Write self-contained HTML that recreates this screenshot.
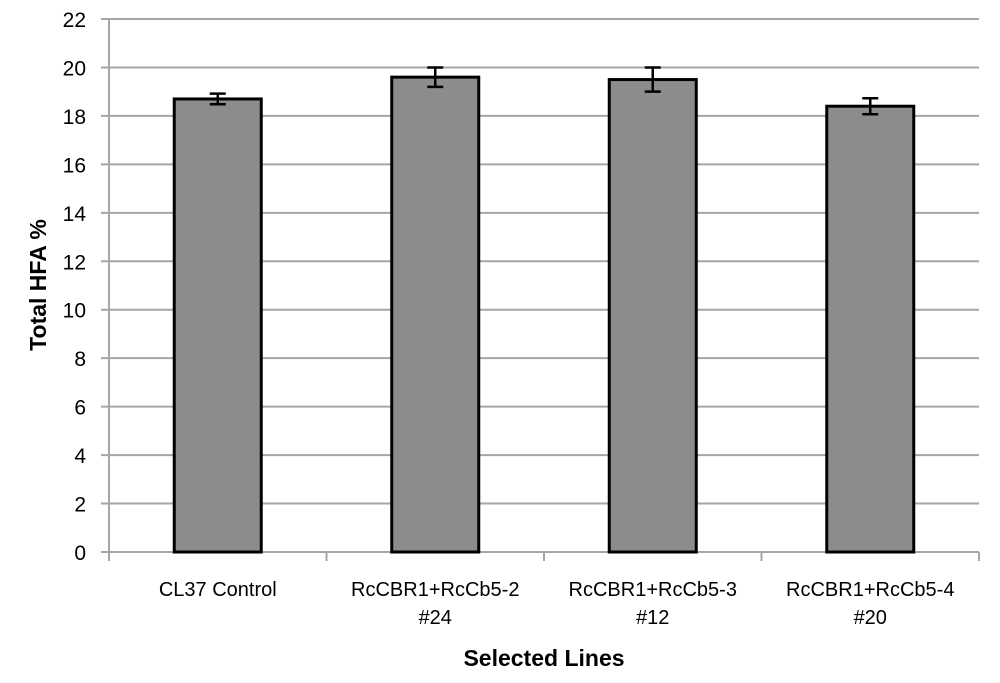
<!DOCTYPE html>
<html><head><meta charset="utf-8"><style>
body{margin:0;background:#fff;}
text{font-family:"Liberation Sans",Calibri,sans-serif;}
</style></head><body>
<svg id="chart" width="1000" height="678" xmlns="http://www.w3.org/2000/svg">
<g id="grid"></g>
<g id="yticks"></g>
<g id="xticks"></g>
<g id="bars"></g>
<text transform="translate(46,285) rotate(-90)" text-anchor="middle" font-size="23" font-weight="bold">Total HFA %</text>
<text x="544" y="666" text-anchor="middle" font-size="23" font-weight="bold">Selected Lines</text>
</svg>
<script>
const categories=[["CL37 Control"],["RcCBR1+RcCb5-2","#24"],["RcCBR1+RcCb5-3","#12"],["RcCBR1+RcCb5-4","#20"]];
const values=[18.7,19.6,19.5,18.4];
const errors=[0.22,0.4,0.5,0.33];
const yTicks=[0,2,4,6,8,10,12,14,16,18,20,22];
const NS="http://www.w3.org/2000/svg";
const x0=109,x1=979,yTop=19,yBot=552,yMax=22;
function y(v){return yBot-(v/yMax)*(yBot-yTop);}
const bw=(x1-x0)/categories.length;
function xc(i){return x0+bw*(i+0.5);}
function mk(tag,attrs,parent){const e=document.createElementNS(NS,tag);for(const k in attrs)e.setAttribute(k,attrs[k]);parent.appendChild(e);return e;}
const grid=document.getElementById('grid'),yt=document.getElementById('yticks'),xt=document.getElementById('xticks'),bars=document.getElementById('bars');
yTicks.forEach(t=>{
 const l=mk('line',{x1:101,x2:x1,y1:y(t),y2:y(t),stroke:'#a6a6a6','stroke-width':2},grid);
 
 
 const tx=mk('text',{x:86,y:y(t)+8,'text-anchor':'end','font-size':21},yt);
 tx.textContent=t;
 
 
});
mk('line',{x1:x0,x2:x0,y1:yTop,y2:yBot,stroke:'#a6a6a6','stroke-width':2},yt);
for(let i=0;i<=categories.length;i++){
 const tk=mk('line',{x1:x0+bw*i,x2:x0+bw*i,y1:yBot,y2:yBot+9,stroke:'#a6a6a6','stroke-width':2},xt);
 
 
}
categories.forEach((c,i)=>{
 c.forEach((line,j)=>{
  const tx=mk('text',{x:xc(i),y:596+j*28,'text-anchor':'middle','font-size':20},xt);
  tx.textContent=line;
  
  
 });
 const w=bw*0.4;
 const r=mk('rect',{x:xc(i)-w/2,y:y(values[i]),width:w,height:yBot-y(values[i]),fill:'#8c8c8c',stroke:'#000','stroke-width':3},bars);
 
 
 const hi=y(values[i]+errors[i]),lo=y(values[i]-errors[i]);
 const g=mk('g',{stroke:'#000','stroke-width':2.5},bars);
 
 
 mk('line',{x1:xc(i),x2:xc(i),y1:hi,y2:lo},g);
 mk('line',{x1:xc(i)-8,x2:xc(i)+8,y1:hi,y2:hi},g);
 mk('line',{x1:xc(i)-8,x2:xc(i)+8,y1:lo,y2:lo},g);
});
</script>
</body></html>
